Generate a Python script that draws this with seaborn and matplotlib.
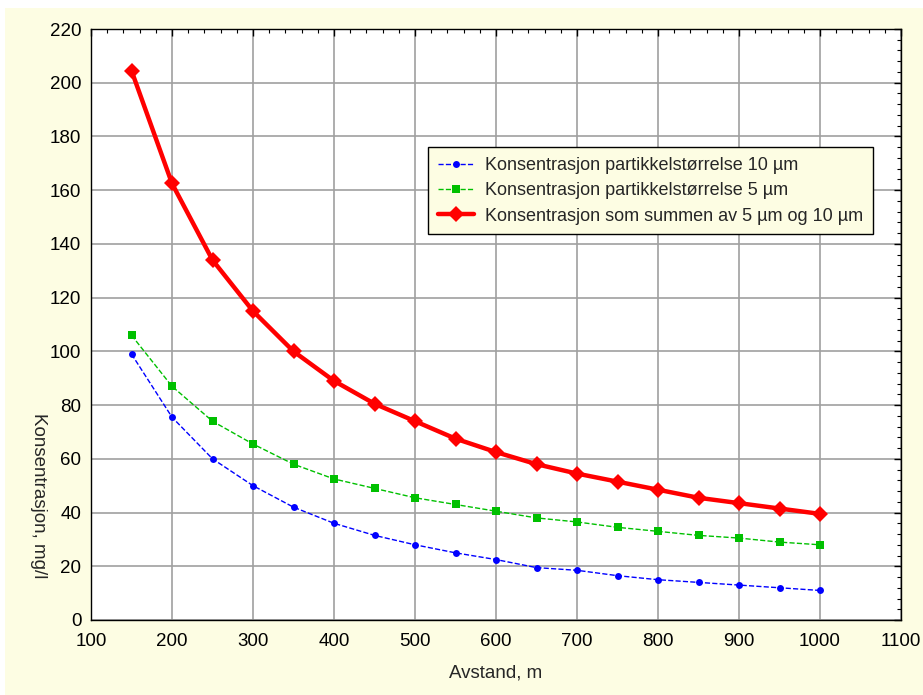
import matplotlib
matplotlib.use('Agg')
import matplotlib.pyplot as plt
from matplotlib.patches import Rectangle
from matplotlib.ticker import MultipleLocator
import seaborn as sns

avstand = [150, 200, 250, 300, 350, 400, 450, 500, 550, 600,
           650, 700, 750, 800, 850, 900, 950, 1000]
konc_10um = [99, 75.5, 60, 50, 42, 36, 31.5, 28, 25, 22.5,
             19.5, 18.5, 16.5, 15, 14, 13, 12, 11]
konc_5um = [106, 87, 74, 65.5, 58, 52.5, 49, 45.5, 43, 40.5,
            38, 36.5, 34.5, 33, 31.5, 30.5, 29, 28]
konc_sum = [204.5, 162.5, 134, 115, 100, 89, 80.5, 74, 67.5, 62.5,
            58, 54.5, 51.5, 48.5, 45.5, 43.5, 41.5, 39.5]

sns.set_style('white')
plt.rcParams['font.family'] = ['Liberation Sans', 'DejaVu Sans']

bg = '#fdfde3'
fig = plt.figure(figsize=(9.23, 6.95), dpi=100, facecolor='white')
# yellow panel behind the chart (small white margin top/left)
fig.patches.append(Rectangle((5 / 923, 0), 1, 687 / 695, transform=fig.transFigure,
                             facecolor=bg, edgecolor='none', zorder=-10))
ax = fig.add_axes([91 / 923, 75 / 695, 810 / 923, 591 / 695])
ax.set_facecolor('white')

sns.lineplot(x=avstand, y=konc_10um, ax=ax, color='#0000ff', linestyle='--',
             linewidth=1, marker='o', markersize=5, markeredgewidth=0,
             label='Konsentrasjon partikkelstørrelse 10 µm')
sns.lineplot(x=avstand, y=konc_5um, ax=ax, color='#00c000', linestyle='--',
             linewidth=1, marker='s', markersize=6, markeredgewidth=0,
             label='Konsentrasjon partikkelstørrelse 5 µm')
sns.lineplot(x=avstand, y=konc_sum, ax=ax, color='#ff0000', linestyle='-',
             linewidth=3.2, marker='D', markersize=8, markeredgewidth=0,
             label='Konsentrasjon som summen av 5 µm og 10 µm')

ax.set_xlim(100, 1100)
ax.set_ylim(0, 220)
ax.xaxis.set_major_locator(MultipleLocator(100))
ax.xaxis.set_minor_locator(MultipleLocator(20))
ax.yaxis.set_major_locator(MultipleLocator(20))
ax.yaxis.set_minor_locator(MultipleLocator(4))
ax.tick_params(which='both', direction='in', top=True, right=True,
               colors='black', labelsize=13.5)
ax.tick_params(which='major', length=5, width=1)
ax.tick_params(which='minor', length=3, width=0.8)
ax.tick_params(axis='x', which='major', pad=9)
ax.tick_params(axis='y', which='major', pad=7)
ax.grid(True, which='major', color='#a0a0a0', linewidth=1.2)
for s in ax.spines.values():
    s.set_color('black')
    s.set_linewidth(1)

ax.set_xlabel('Avstand, m', fontsize=13.5, labelpad=11)
ax.set_ylabel('Konsentrasjon, mg/l', fontsize=13.5, rotation=-90)
ax.yaxis.set_label_coords(-0.075, 0.21)

leg = ax.legend(loc='upper left', bbox_to_anchor=(0.405, 0.815), fontsize=13,
                frameon=True, fancybox=False, handlelength=2.0,
                borderpad=0.55, labelspacing=0.45, handletextpad=0.6)
leg.get_frame().set_facecolor(bg)
leg.get_frame().set_edgecolor('black')
leg.get_frame().set_alpha(1)

fig.savefig('out.png', dpi=100, facecolor='white')
